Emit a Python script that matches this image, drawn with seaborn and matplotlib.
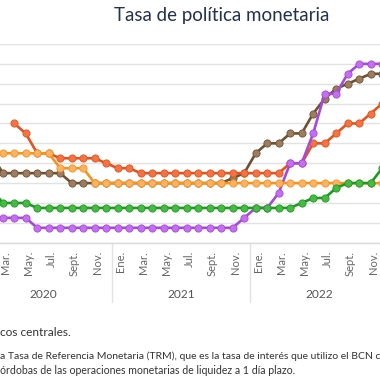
import numpy as np
import pandas as pd
import matplotlib
matplotlib.use("Agg")
import matplotlib.pyplot as plt
import matplotlib.transforms as mtransforms
import seaborn as sns

# months from Feb 2020 to Dec 2022 (index 0 = Jan 2020)
month_idx = list(range(1, 36))
month_names = ["Ene.", "Mar.", "May.", "Jul.", "Sept.", "Nov."]
years = ["2020", "2021", "2022"]

costa_rica = [1.25, 1.25, 1.25, 1.25] + [0.75] * 18 + [1.25, 1.75, 1.75, 2.5, 4.0, 4.0,
                                                      5.5, 7.5, 7.5, 8.5, 9.0, 9.0, 9.0]
rep_dominicana = [4.5] + [3.5] * 6 + [3.0] * 14 + [3.25, 3.5, 4.5, 5.0, 5.0, 5.5, 5.5,
                                                   6.5, 7.25, 7.75, 8.0, 8.25, 8.5, 8.5]
nicaragua = [np.nan, np.nan, 6.0, 5.5, 4.5, 4.5] + [4.25] * 4 + [4.0, 3.75, 3.75] + [3.5] * 13 + \
            [4.0, 4.0, 5.0, 5.0, 5.5, 6.0, 6.0, 6.5, 7.0]
honduras = [4.5] * 6 + [3.75] * 3 + [3.0] * 26
guatemala = [2.75, 2.0, 2.0, 2.0] + [1.75] * 23 + [2.0, 2.25, 2.25, 2.75, 3.0, 3.0, 3.0, 3.75]

# drawing order bottom -> top: (name, values, line colour, marker colour)
series = [
    ("República Dominicana", rep_dominicana, "#6e5130", "#9c7d62"),
    ("Nicaragua", nicaragua, "#e2531f", "#f27444"),
    ("Costa Rica", costa_rica, "#a64ad6", "#c46ef0"),
    ("Honduras", honduras, "#f7931c", "#fbb264"),
    ("Guatemala", guatemala, "#1f9a1f", "#47b947"),
]

sns.set_style("white")
plt.rcParams["font.family"] = ["Lato", "DejaVu Sans"]

fig = plt.figure(figsize=(3.8, 3.8), dpi=100)
ax = fig.add_axes([0, 0.3613, 1, 0.5229])

for k, (name, vals, lc, mc) in enumerate(series):
    df = pd.DataFrame({"mes": month_idx, "tasa": vals}).dropna()
    sns.lineplot(data=df, x="mes", y="tasa", ax=ax, color=lc, linewidth=1.9,
                 marker="o", markersize=5.2, markerfacecolor=mc, markeredgecolor=lc,
                 markeredgewidth=0.6, zorder=3 + k)

# only the ticks inside the visible window
ticks = list(range(2, 36, 2))
ax.set_xticks(ticks)
ax.set_xticklabels([month_names[(t % 12) // 2] for t in ticks], rotation=90,
                   color="#666666", fontsize=8)
ax.tick_params(axis="x", length=0, pad=6)
shift = mtransforms.ScaledTranslation(2.8 / 100, 0, fig.dpi_scale_trans)
for lab in ax.get_xticklabels():
    lab.set_transform(lab.get_transform() + shift)

ax.set_xlim(1.765, 34.81)
ax.set_ylim(0, 10)
ax.set_yticks(range(0, 11))
ax.yaxis.grid(True, color="#e2e2e2", linewidth=1.0)
ax.set_axisbelow(True)
ax.tick_params(axis="y", length=0, labelleft=False)
ax.set_xlabel("")
ax.set_ylabel("")
for s in ["top", "left", "right"]:
    ax.spines[s].set_visible(False)
ax.spines["bottom"].set_color("#d9d9d9")
ax.spines["bottom"].set_linewidth(1.0)

trans = mtransforms.blended_transform_factory(ax.transData, ax.transAxes)
for sep in [11.5, 23.5]:
    ax.plot([sep, sep], [0, -0.30], transform=trans, color="#e2e2e2",
            linewidth=1.0, clip_on=False)
for j, yr in enumerate(years):
    ax.text(5.5 + 12 * j, -0.26, yr, transform=trans, ha="center", va="center",
            color="#555555", fontsize=8.6)

fig.text(222 / 380, 1 - 15 / 380, "Tasa de política monetaria", ha="center",
         va="center", color="#233150", fontsize=13.5)
fig.text(0, 1 - 332 / 380, "cos centrales.", ha="left", va="center",
         color="#333333", fontsize=8.6)
fig.text(0, 1 - 356 / 380,
         "a Tasa de Referencia Monetaria (TRM), que es la tasa de interés que utilizo el BCN c",
         ha="left", va="center", color="#333333", fontsize=7.5)
fig.text(0, 1 - 371 / 380,
         "órdobas de las operaciones monetarias de liquidez a 1 día plazo.",
         ha="left", va="center", color="#333333", fontsize=7.6)

fig.savefig("out.png", dpi=100)
